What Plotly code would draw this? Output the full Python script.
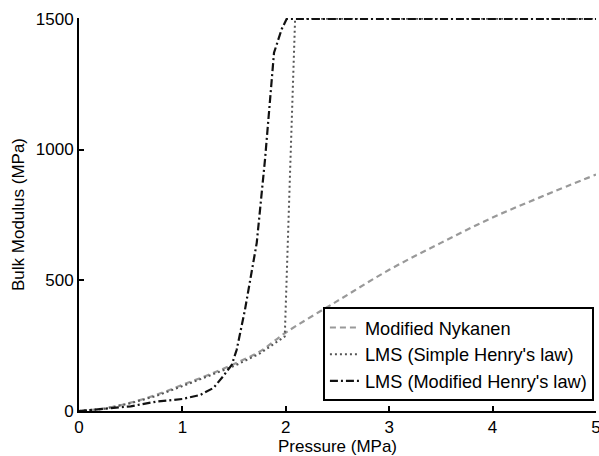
import plotly.graph_objects as go

# Data
nyk_x = [0, 0.25, 0.5, 0.75, 1, 1.25, 1.5, 1.75, 2, 2.5, 3, 3.5, 4, 4.5, 5]
nyk_y = [0, 10, 32, 62, 100, 138, 180, 228, 300, 421, 540, 643, 740, 824, 904]

simple_x = [0, 0.25, 0.5, 0.75, 1, 1.25, 1.5, 1.75, 1.99, 2.04, 2.09, 5]
simple_y = [0, 9, 30, 58, 95, 132, 172, 220, 285, 898, 1500, 1500]

mod_x = [0, 0.25, 0.5, 0.75, 1, 1.17, 1.3, 1.39, 1.477, 1.525, 1.605, 1.719,
         1.799, 1.886, 1.96, 2.009, 5]
mod_y = [0, 8, 18, 36, 46, 61, 88, 131, 176, 234, 387, 643, 962, 1370, 1460,
         1500, 1500]

x_ticks = [0, 1, 2, 3, 4, 5]
y_ticks = [0, 500, 1000, 1500]

FONT = "Liberation Sans, Arial, Helvetica, sans-serif"

fig = go.Figure()
fig.add_trace(go.Scatter(x=nyk_x, y=nyk_y, mode="lines", name="Modified Nykanen",
                         line=dict(color="#999999", width=2.2, dash="6px,4px", shape="spline")))
fig.add_trace(go.Scatter(x=simple_x, y=simple_y, mode="lines", name="LMS (Simple Henry's law)",
                         line=dict(color="#555555", width=2, dash="2px,3px")))
fig.add_trace(go.Scatter(x=mod_x, y=mod_y, mode="lines", name="LMS (Modified Henry's law)",
                         line=dict(color="#111111", width=2.2, dash="8px,3px,2px,3px")))

fig.update_layout(
    width=599, height=456,
    margin=dict(l=79, r=3, t=18, b=45),
    paper_bgcolor="white", plot_bgcolor="white",
    font=dict(family=FONT, size=17, color="black"),
    showlegend=True,
    legend=dict(x=0.996, y=0.025, xanchor="right", yanchor="bottom",
                bordercolor="black", borderwidth=2, bgcolor="white",
                font=dict(family=FONT, size=18.2, color="black"),
                itemwidth=30, tracegroupgap=0),
    xaxis=dict(range=[0, 5], tickvals=x_ticks, ticks="inside", ticklen=5,
               tickwidth=2, tickcolor="black", showline=True, linecolor="black",
               linewidth=2, showgrid=False, zeroline=False, automargin=False,
               ticklabeloverflow="allow",
               title=dict(text="Pressure (MPa)", standoff=2, font=dict(size=17)),
               tickfont=dict(size=17)),
    yaxis=dict(range=[0, 1503], tickvals=y_ticks, ticks="inside", ticklen=5,
               tickwidth=2, tickcolor="black", showline=True, linecolor="black",
               linewidth=2, showgrid=False, zeroline=False, automargin=False,
               title=dict(text="Bulk Modulus (MPa)", standoff=7, font=dict(size=17)),
               tickfont=dict(size=17)),
)

fig.write_html("out.html")
